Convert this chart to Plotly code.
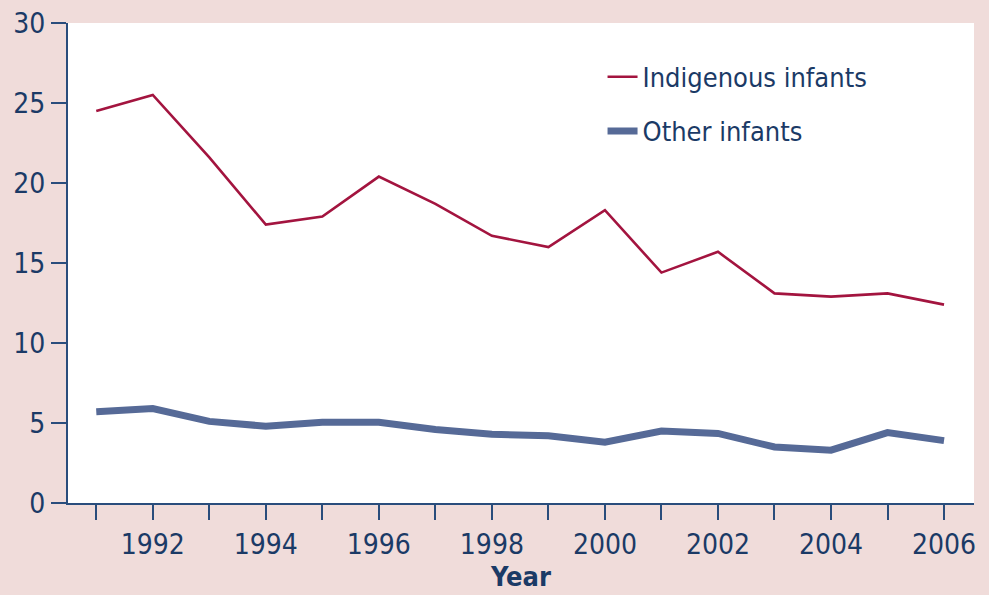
import plotly.graph_objects as go

years = list(range(1991, 2007))
indigenous = [24.5, 25.5, 21.6, 17.4, 17.9, 20.4, 18.7, 16.7, 16.0, 18.3, 14.4, 15.7, 13.1, 12.9, 13.1, 12.4]
other = [5.7, 5.9, 5.1, 4.8, 5.05, 5.05, 4.6, 4.3, 4.2, 3.8, 4.5, 4.35, 3.5, 3.3, 4.4, 3.9]
x_tick_labels = [str(y) if y % 2 == 0 else "" for y in years]
y_ticks = [0, 5, 10, 15, 20, 25, 30]

FONT = "DejaVu Sans Condensed, Liberation Sans Narrow, sans-serif"
NAVY = "#1b3a66"
AXIS = "#2a4d7c"
BG = "#f0dcda"

fig = go.Figure()
fig.add_trace(go.Scatter(x=years, y=indigenous, mode="lines", name="Indigenous infants",
                         line=dict(color="#a3143f", width=2.6), legendgroup="a"))
fig.add_trace(go.Scatter(x=years, y=other, mode="lines", name="Other infants",
                         line=dict(color="#566a97", width=7), legendgroup="b"))

fig.update_layout(
    width=989, height=595,
    margin=dict(l=68, r=15, t=23, b=92, autoexpand=False),
    paper_bgcolor=BG,
    plot_bgcolor="#ffffff",
    font=dict(family=FONT, color=NAVY, size=28),
    showlegend=True,
    legend=dict(x=0.59, y=0.938, xanchor="left", yanchor="top",
                bgcolor="rgba(0,0,0,0)", font=dict(size=27, color=NAVY),
                tracegroupgap=16),
    xaxis=dict(range=[1990.5, 2006.53], tickmode="array", tickvals=years, ticktext=x_tick_labels,
               showgrid=False, zeroline=False, showline=True, linecolor=AXIS, linewidth=2,
               ticks="outside", ticklen=15, tickwidth=2, tickcolor=AXIS,
               tickfont=dict(size=28, color=NAVY), automargin=False,
               title=dict(text="<b>Year</b>", font=dict(size=27, color=NAVY), standoff=5)),
    yaxis=dict(range=[0, 30], tickmode="array", tickvals=y_ticks,
               showgrid=False, zeroline=False, showline=True, linecolor=AXIS, linewidth=2,
               ticks="outside", ticklen=15, tickwidth=2, tickcolor=AXIS,
               tickfont=dict(size=28, color=NAVY), automargin=False),
)

fig.write_html("out.html", config={"displayModeBar": False},
               post_script="document.body.style.margin='0';document.body.style.padding='0';"
                           "document.body.style.background='" + BG + "';")
